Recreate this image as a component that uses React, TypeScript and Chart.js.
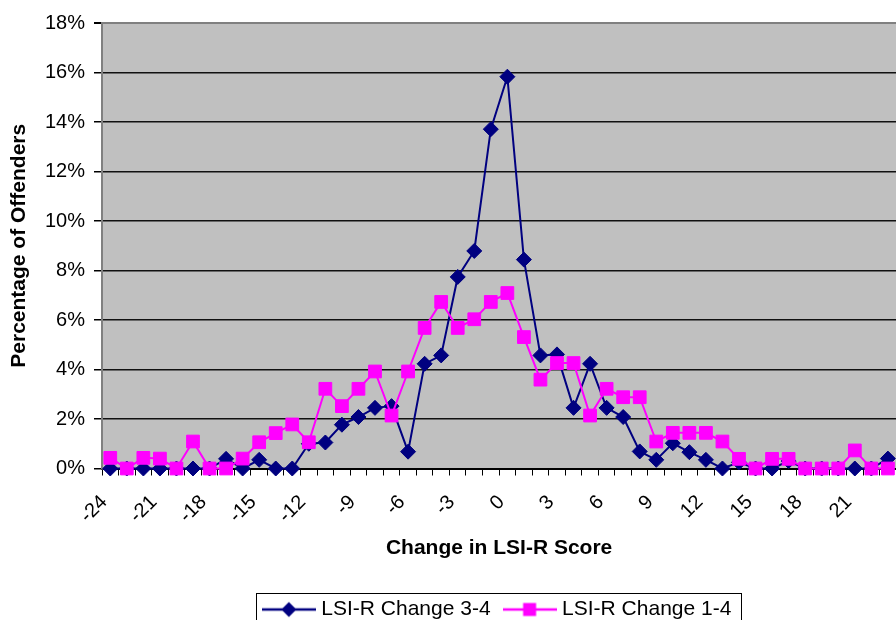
import React, { useEffect, useRef } from 'react';
import { Chart, registerables } from 'chart.js';

Chart.register(...registerables);

// Categories: change in LSI-R score
const changes = [
  -24, -23, -22, -21, -20, -19, -18, -17, -16, -15, -14, -13,
  -12, -11, -10, -9, -8, -7, -6, -5, -4, -3, -2, -1,
  0, 1, 2, 3, 4, 5, 6, 7, 8, 9, 10, 11,
  12, 13, 14, 15, 16, 17, 18, 19, 20, 21, 22, 23,
];

// LSI-R Change 3-4 (percent of offenders)
const change34 = [
  0, 0, 0, 0, 0, 0, 0, 0.39, 0, 0.35, 0, 0,
  1.0, 1.05, 1.77, 2.08, 2.45, 2.52, 0.68, 4.23, 4.57, 7.74, 8.79, 13.71,
  15.83, 8.44, 4.57, 4.61, 2.45, 4.23, 2.45, 2.08, 0.69, 0.35, 1.02, 0.66,
  0.35, 0, 0.25, 0, 0, 0.3, 0, 0, 0, 0, 0, 0.4,
];

// LSI-R Change 1-4 (percent of offenders)
const change14 = [
  0.43, 0, 0.43, 0.4, 0, 1.09, 0, 0, 0.4, 1.06, 1.43, 1.78,
  1.06, 3.22, 2.52, 3.22, 3.92, 2.14, 3.92, 5.68, 6.73, 5.68, 6.03, 6.73,
  7.09, 5.31, 3.59, 4.26, 4.26, 2.14, 3.22, 2.88, 2.88, 1.09, 1.44, 1.44,
  1.44, 1.09, 0.39, 0, 0.39, 0.39, 0, 0, 0, 0.73, 0, 0,
];

const seriesNames = ['LSI-R Change 3-4', 'LSI-R Change 1-4'];
const yMin = 0;
const yMax = 18;
const yStep = 2;
const xLabelEvery = 3;

const NAVY = '#000080';
const PINK = '#FF00FF';
const FONT = "'Liberation Sans', Arial, Helvetica, sans-serif";

function legendSample(color: string, marker: 'diamond' | 'square') {
  const c = document.createElement('canvas');
  c.width = 54;
  c.height = 18;
  const ctx = c.getContext('2d') as CanvasRenderingContext2D;
  ctx.strokeStyle = color;
  ctx.lineWidth = 2.5;
  ctx.beginPath();
  ctx.moveTo(0, 9);
  ctx.lineTo(54, 9);
  ctx.stroke();
  ctx.fillStyle = color;
  if (marker === 'diamond') {
    ctx.beginPath();
    ctx.moveTo(19.5, 9);
    ctx.lineTo(27, 1.5);
    ctx.lineTo(34.5, 9);
    ctx.lineTo(27, 16.5);
    ctx.closePath();
    ctx.fill();
  } else {
    ctx.fillRect(20.5, 2.5, 13, 13);
  }
  return c;
}

const plotBg = {
  id: 'plotBg',
  beforeDraw(chart: any) {
    const { ctx, chartArea: a } = chart;
    ctx.save();
    ctx.fillStyle = '#C0C0C0';
    ctx.fillRect(a.left, a.top, a.right - a.left, a.bottom - a.top);
    ctx.restore();
  },
};

const legendFrame = {
  id: 'legendFrame',
  afterDraw(chart: any) {
    const lg = chart.legend;
    const hb = lg && lg.legendHitBoxes;
    if (!hb || !hb.length) return;
    const first = hb[0];
    const last = hb[hb.length - 1];
    const left = Math.round(first.left - 11) + 0.5;
    const right = Math.round(last.left + last.width + 10) + 0.5;
    const top = Math.round(first.top - 6.5) + 0.5;
    const bottom = Math.round(first.top + first.height + 8) + 0.5;
    const ctx = chart.ctx;
    ctx.save();
    ctx.strokeStyle = '#000';
    ctx.lineWidth = 1;
    ctx.strokeRect(left, top, right - left, bottom - top);
    ctx.restore();
  },
};

export default function App() {
  const ref = useRef<HTMLCanvasElement | null>(null);

  useEffect(() => {
    if (!ref.current) return;
    Chart.defaults.font.family = FONT;
    const navyImg = legendSample(NAVY, 'diamond');
    const pinkImg = legendSample(PINK, 'square');

    const chart = new Chart(ref.current, {
      type: 'line',
      data: {
        labels: changes.map(String),
        datasets: [
          {
            label: seriesNames[0],
            data: change34,
            borderColor: NAVY,
            backgroundColor: NAVY,
            borderWidth: 2,
            pointStyle: 'rectRot',
            pointRadius: 7.5,
            pointBorderWidth: 1,
            pointBackgroundColor: NAVY,
            pointBorderColor: NAVY,
            tension: 0,
            clip: false,
            order: 1,
          } as any,
          {
            label: seriesNames[1],
            data: change14,
            borderColor: PINK,
            backgroundColor: PINK,
            borderWidth: 2,
            pointStyle: 'rect',
            pointRadius: 9,
            pointBorderWidth: 1,
            pointBackgroundColor: PINK,
            pointBorderColor: PINK,
            tension: 0,
            clip: false,
            order: 0,
          } as any,
        ],
      },
      options: {
        responsive: false,
        animation: false,
        events: [],
        devicePixelRatio: 1,
        layout: { padding: { top: 23, left: 0, right: 12, bottom: 0 } },
        scales: {
          x: {
            type: 'category',
            offset: true,
            grid: {
              drawOnChartArea: false,
              drawTicks: true,
              tickLength: 7,
              tickColor: '#000',
              offset: true,
            },
            border: { color: '#000', width: 2 },
            ticks: {
              autoSkip: false,
              maxRotation: 45,
              minRotation: 45,
              color: '#000',
              font: { size: 20 },
              padding: 15,
              labelOffset: -6,
              callback: (_v: any, i: number) => (i % xLabelEvery === 0 ? String(changes[i]) : ''),
            },
            title: {
              display: true,
              text: 'Change in LSI-R Score',
              color: '#000',
              font: { size: 21, weight: 'bold' },
              padding: { top: 0, bottom: 21 },
            },
            afterFit: (s: any) => {
              s.height = 113.5;
            },
          } as any,
          y: {
            min: yMin,
            max: yMax,
            ticks: {
              stepSize: yStep,
              color: '#000',
              font: { size: 20 },
              padding: 9,
              callback: (v: any) => `${v}%`,
            },
            grid: {
              color: (c: any) => (c.tick && c.tick.value === yMax ? '#808080' : '#111'),
              lineWidth: (c: any) => (c.tick && c.tick.value === yMax ? 2 : 1.5),
              tickColor: '#000',
              tickLength: 8,
              drawTicks: true,
            },
            border: { color: '#808080', width: 2 },
            title: {
              display: true,
              text: 'Percentage of Offenders',
              color: '#000',
              font: { size: 21, weight: 'bold' },
              padding: { top: 7, bottom: 0 },
            },
            afterFit: (s: any) => {
              s.width = 102;
            },
          } as any,
        },
        plugins: {
          tooltip: { enabled: false },
          legend: {
            display: true,
            position: 'bottom',
            fullSize: false,
            labels: {
              color: '#000',
              font: { size: 21 },
              usePointStyle: true,
              pointStyleWidth: 44,
              padding: 17,
              sort: (a: any, b: any) => a.datasetIndex - b.datasetIndex,
              generateLabels: (ch: any) => {
                const items = (Chart.defaults.plugins.legend.labels as any).generateLabels(ch);
                return items.map((it: any) => ({
                  ...it,
                  pointStyle: it.datasetIndex === 0 ? navyImg : pinkImg,
                  lineWidth: 0,
                }));
              },
            },
          } as any,
        },
      },
      plugins: [plotBg, legendFrame],
    });

    return () => {
      chart.destroy();
    };
  }, []);

  return (
    <div
      style={{
        position: 'fixed',
        left: 0,
        top: 0,
        width: 896,
        height: 620,
        overflow: 'hidden',
        background: '#fff',
      }}
    >
      <canvas ref={ref} width={920} height={630} style={{ display: 'block', width: 920, height: 630 }} />
    </div>
  );
}
